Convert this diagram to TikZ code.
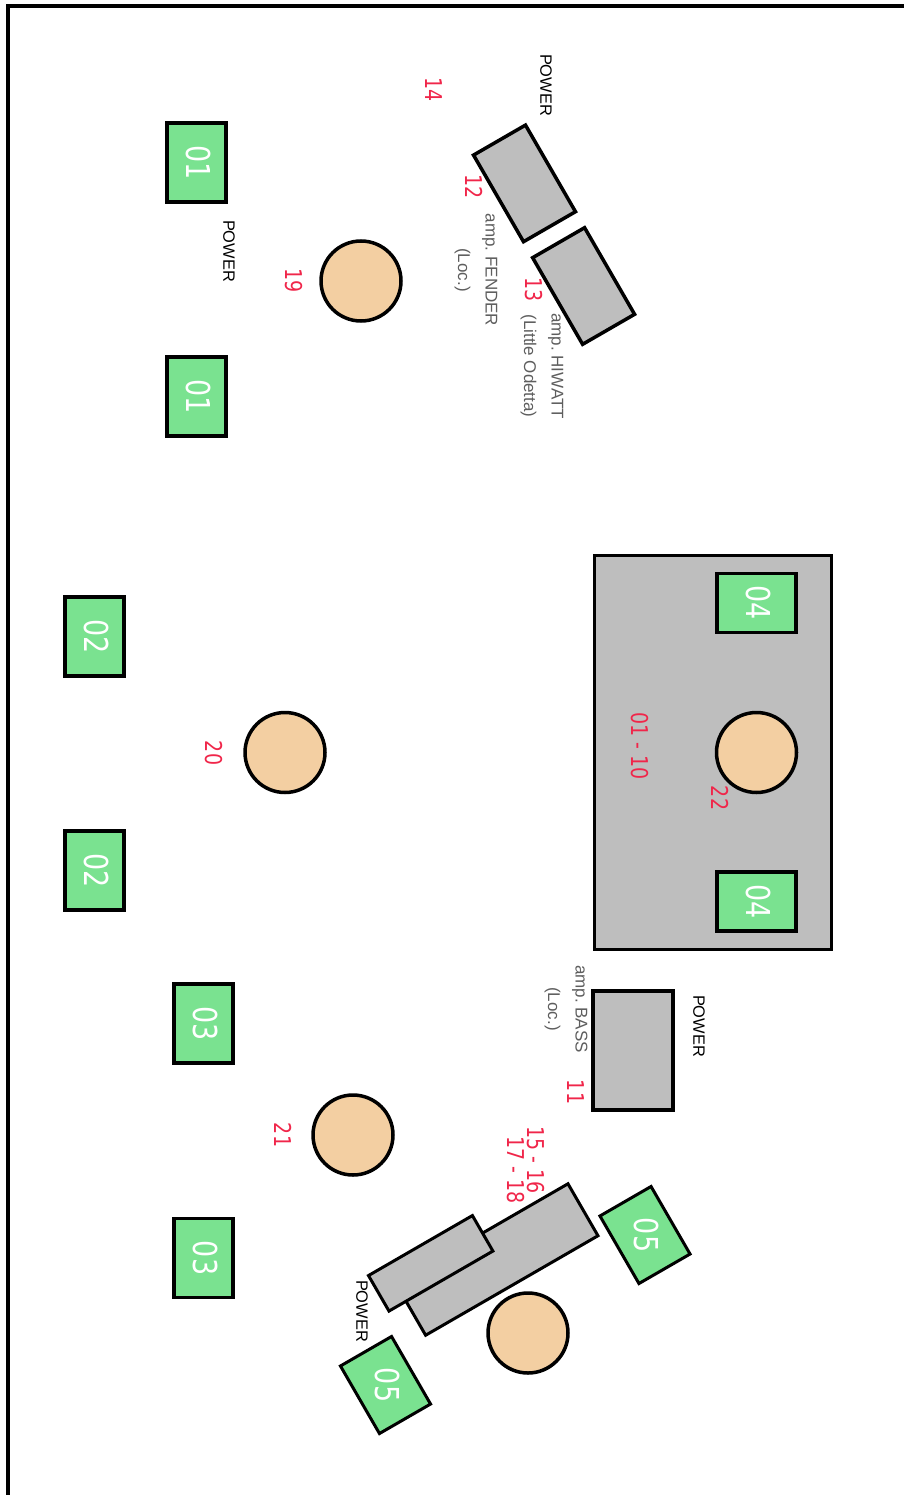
\documentclass[tikz,border=0pt]{standalone}
\usepackage{fontspec}
\setmainfont{Liberation Sans}
\newfontfamily\numfont{DejaVu Sans}
\usepackage{xcolor}
\usepackage{graphicx}
\usepackage{tikz}
\definecolor{wedgegreen}{HTML}{7AE290}
\definecolor{skin}{HTML}{F3CFA2}
\definecolor{gear}{HTML}{BEBEBE}
\definecolor{chan}{HTML}{F0264A}
\definecolor{note}{HTML}{5E5E5E}
\newcommand{\tallnum}[1]{\scalebox{1}[1.22]{#1}}

\begin{document}
\begin{tikzpicture}[
    x = 1pt, y = -1pt, align = center,
    wedge/.style = {
      rectangle, draw, fill = wedgegreen, line width = 3.5pt,
      inner sep = 0pt, minimum width = 79pt, minimum height = 59pt
    },
    wedgetilt/.style = {
      wedge, rotate = -60, line width = 3pt,
      minimum width = 78pt, minimum height = 59pt
    },
    wedgeno/.style = {
      rotate = -90, text = white, inner sep = 0pt, yshift = 1.5pt,
      font = \fontsize{27}{27}\selectfont\numfont
    },
    player/.style = {
      circle, draw, fill = skin, line width = 3.5pt,
      inner sep = 0pt, minimum size = 80pt
    },
    amp/.style = {
      rectangle, draw, fill = gear, line width = 3.5pt,
      inner sep = 0pt, minimum width = 100pt, minimum height = 60pt
    },
    power/.style = {
      rotate = -90, inner sep = 0pt, yshift = 2pt,
      font = \fontsize{16.4}{16.4}\selectfont
    },
    channel/.style = {
      rotate = -90, text = chan, inner sep = 0pt, yshift = 2.5pt,
      font = \fontsize{19}{19}\selectfont\numfont
    },
    ampname/.style = {
      rotate = -90, text = note, inner sep = 0pt,
      font = \fontsize{17}{27.5}\selectfont\frenchspacing
    },
    ]
% frame
\useasboundingbox  (0,0)  rectangle  (904,1495);
\coordinate  (f1)  at  (7.5,1495);
\coordinate  (f2)  at  (7.5,6);
\coordinate  (f3)  at  (904,6);
\draw  [line width = 4pt]  (f1)  --  (f2)  --  (f3);

% riser
\node  [amp, minimum width = 237pt, minimum height = 394pt]  (riser)  at  (713,752.5)  {};
\node  [channel]  (ch_riser)  at  (637,746)  {\tallnum{01 - 10}};

% wedges
\node  [wedge, rotate = -90]  (wedge_1a)  at  (196.5,162.5)  {};
\node  [wedge, rotate = -90]  (wedge_1b)  at  (196.5,396.5)  {};
\node  [wedge, rotate = -90]  (wedge_2a)  at  (94.5,636.5)  {};
\node  [wedge, rotate = -90]  (wedge_2b)  at  (94.5,870.5)  {};
\node  [wedge, rotate = -90]  (wedge_3a)  at  (203.5,1023.5)  {};
\node  [wedge, rotate = -90]  (wedge_3b)  at  (203.5,1258)  {};
\node  [wedge, rotate = -90, minimum width = 59pt, minimum height = 79pt]  (wedge_4a)  at  (756.5,603)  {};
\node  [wedge, rotate = -90, minimum width = 59pt, minimum height = 79pt]  (wedge_4b)  at  (756.5,901.5)  {};
\node  [wedgetilt]  (wedge_5a)  at  (645,1235)  {};
\node  [wedgetilt]  (wedge_5b)  at  (385.5,1385)  {};
\node  [wedgeno]  (no_1a)  at  (wedge_1a)  {\tallnum{01}};
\node  [wedgeno]  (no_1b)  at  (wedge_1b)  {\tallnum{01}};
\node  [wedgeno]  (no_2a)  at  (wedge_2a)  {\tallnum{02}};
\node  [wedgeno]  (no_2b)  at  (wedge_2b)  {\tallnum{02}};
\node  [wedgeno]  (no_3a)  at  (wedge_3a)  {\tallnum{03}};
\node  [wedgeno]  (no_3b)  at  (wedge_3b)  {\tallnum{03}};
\node  [wedgeno]  (no_4a)  at  (wedge_4a)  {\tallnum{04}};
\node  [wedgeno]  (no_4b)  at  (wedge_4b)  {\tallnum{04}};
\node  [wedgeno]  (no_5a)  at  (wedge_5a)  {\tallnum{05}};
\node  [wedgeno]  (no_5b)  at  (wedge_5b)  {\tallnum{05}};

% players
\node  [player]  (player_1)  at  (361,281)  {};
\node  [player]  (player_2)  at  (285,752.5)  {};
\node  [player]  (player_3)  at  (353,1135)  {};
\node  [player]  (player_4)  at  (756.5,752.5)  {};
\node  [player]  (player_5)  at  (528,1333)  {};
\node  [channel]  (ch_19)  at  (291,281)  {\tallnum{19}};
\node  [channel]  (ch_20)  at  (211,753)  {\tallnum{20}};
\node  [channel]  (ch_21)  at  (281,1135)  {\tallnum{21}};
\node  [channel]  (ch_22)  at  (718,798)  {\tallnum{22}};

% amps
\node  [amp, rotate = -60]  (amp_fender)  at  (524.5,183.4)  {};
\node  [amp, rotate = -60]  (amp_hiwatt)  at  (583.6,286)  {};
\node  [amp, rotate = -90, minimum width = 119pt, minimum height = 80pt]  (amp_bass)  at  (633,1050.5)  {};
\node  [channel]  (ch_14)  at  (431,90)  {\tallnum{14}};
\node  [channel]  (ch_12)  at  (472,187)  {\tallnum{12}};
\node  [channel]  (ch_13)  at  (531,290)  {\tallnum{13}};
\node  [channel]  (ch_11)  at  (573,1092)  {\tallnum{11}};
\node  [ampname]  (name_fender)  at  (476,270)  {amp. FENDER\\(Loc.)};
\node  [ampname]  (name_hiwatt)  at  (542,366)  {amp. HIWATT\\(Little Odetta)};
\node  [ampname]  (name_bass)  at  (566,1009)  {amp. BASS\\(Loc.)};

% keys
\node  [amp, rotate = -150, line width = 3pt, minimum width = 199pt, minimum height = 60pt]  (keys_low)  at  (496.8,1259.5)  {};
\node  [amp, rotate = -150, line width = 3pt, minimum width = 120pt, minimum height = 41pt]  (keys_top)  at  (430.7,1263.3)  {};
\node  [channel]  (ch_15)  at  (533,1160)  {\tallnum{15 - 16}};
\node  [channel]  (ch_17)  at  (513,1170)  {\tallnum{17 - 18}};

% power
\node  [power]  (power_1)  at  (544,85)  {POWER};
\node  [power]  (power_2)  at  (227,251)  {POWER};
\node  [power]  (power_3)  at  (697,1026)  {POWER};
\node  [power]  (power_4)  at  (360,1311)  {POWER};
\end{tikzpicture}
\end{document}
